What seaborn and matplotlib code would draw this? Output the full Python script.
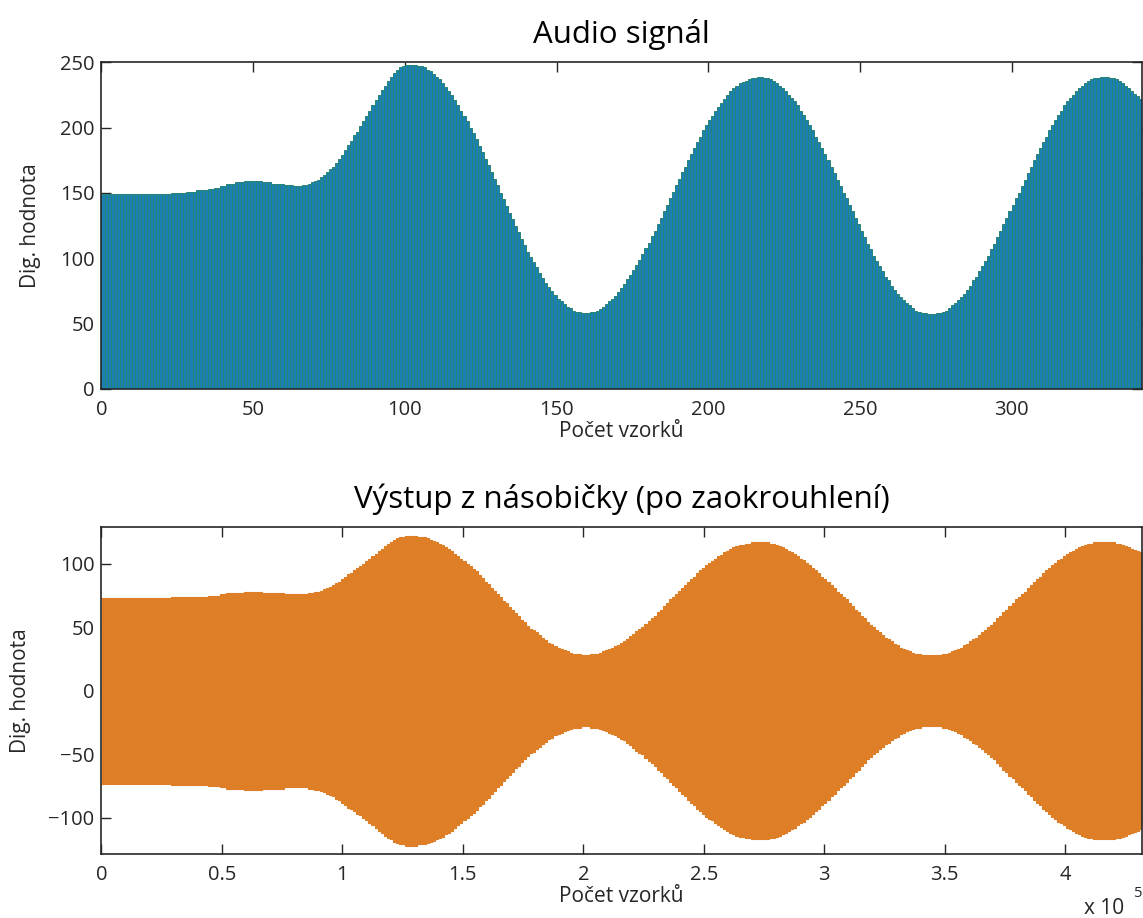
import numpy as np
import pandas as pd
import matplotlib
matplotlib.use("Agg")
import matplotlib.pyplot as plt
import seaborn as sns

# ---------------- data ----------------
titles = ["Audio signál", "Výstup z násobičky (po zaokrouhlení)"]
x_label = "Počet vzorků"
y_label = "Dig. hodnota"

# audio samples 0..342 (digital value, 8-bit unsigned)
audio_values = (
    [149] * 23 + [150] * 5 + [151] * 3 + [152] * 4 + [153] * 2 + [154] * 2 + [155] * 2
    + [157] * 3 + [158] * 3 + [159] * 6 + [158] * 3 + [157] * 4 + [156] * 3 + [155] * 3
    + [156, 156, 157, 158, 159, 160, 162, 164, 166, 168, 170, 173, 176, 179, 183, 187, 190, 194,
       197, 201, 205, 209, 213, 217, 221, 225, 229, 232, 236, 239, 242, 244, 246, 247, 248, 248]
    + [248, 248, 247, 247, 246, 244, 243, 241, 239, 237, 234, 231, 228, 225, 221, 217, 213, 209,
       205, 200, 196, 191, 186, 181, 176, 171, 166, 161, 156, 150, 145, 140, 135, 130, 125, 120,
       115, 110, 105, 101, 97, 93, 89, 85, 81, 78, 75, 72, 69, 67, 65, 63, 62, 60, 59, 59, 58, 58]
    + [58, 59, 59, 60, 61, 63, 65, 67, 69, 71, 74, 77, 80, 84, 87, 91, 95, 99, 103, 108, 112, 117,
       121, 126, 131, 136, 141, 146, 151, 156, 161, 166, 170, 175, 180, 184, 189, 193, 198, 202,
       206, 209, 213, 216, 219, 222, 225, 228, 230, 232, 234, 235, 236, 237, 238, 238, 239]
    + [239, 238, 238, 237, 236, 234, 232, 230, 228, 225, 223, 220, 217, 213, 210, 206, 202, 198,
       193, 189, 184, 180, 175, 170, 165, 160, 155, 150, 146, 141, 136, 131, 126, 121, 116, 111,
       107, 102, 98, 94, 90, 86, 83, 79, 76, 73, 70, 68, 66, 64, 62, 60, 59, 58, 58, 57, 57]
    + [57, 58, 58, 59, 60, 62, 64, 66, 68, 70, 73, 76, 79, 83, 86, 90, 94, 98, 102, 107, 111, 116,
       121, 126, 131, 136, 141, 146, 150, 155, 160, 165, 170, 175, 180, 184, 189, 193, 198, 202,
       206, 210, 213, 217, 220, 223, 225, 228, 230, 232, 234, 236, 237, 238, 238, 239, 239]
    + [239, 238, 238, 237, 236, 234, 232, 230, 228, 226, 224, 222]
)

# multiplier output: audio scaled by the carrier amplitude (read: ~0.49), 1259 output samples per audio sample
mult_gain = 0.49
samples_per_audio = 1259

top_xticks = [0, 50, 100, 150, 200, 250, 300]
top_yticks = [0, 50, 100, 150, 200, 250]
bot_xticks = [0, 50000, 100000, 150000, 200000, 250000, 300000, 350000, 400000]
bot_xticklabels = ["0", "0.5", "1", "1.5", "2", "2.5", "3", "3.5", "4"]
bot_yticks = [-100, -50, 0, 50, 100]
bot_yticklabels = ["\u2212100", "\u221250", "0", "50", "100"]

# ---------------- style ----------------
sns.set_style("ticks")
plt.rcParams["font.family"] = ["Open Sans", "DejaVu Sans"]
plt.rcParams["axes.linewidth"] = 1.2
plt.rcParams["axes.edgecolor"] = "#262626"
plt.rcParams["xtick.direction"] = "in"
plt.rcParams["ytick.direction"] = "in"
plt.rcParams["xtick.top"] = True
plt.rcParams["ytick.right"] = True
plt.rcParams["xtick.major.size"] = 7
plt.rcParams["ytick.major.size"] = 7
plt.rcParams["xtick.major.width"] = 1.0
plt.rcParams["ytick.major.width"] = 1.0
plt.rcParams["xtick.color"] = "#262626"
plt.rcParams["ytick.color"] = "#262626"

BAR_FACE = "#1A80B6"
BAR_EDGE = "#268574"
ORANGE = "#DE7F27"
TXT = "#262626"
TICK_FS = 14.5
LABEL_FS = 15
TITLE_FS = 22.5

FIG_W, FIG_H = 1143, 918
fig = plt.figure(figsize=(FIG_W / 100, FIG_H / 100), dpi=100)
ax1 = fig.add_axes([0.0888, 0.5763, 0.9103, 0.3559])
ax2 = fig.add_axes([0.0888, 0.0697, 0.9103, 0.3562])

n = len(audio_values)
df_top = pd.DataFrame({"sample": np.arange(n) + 0.5, "value": audio_values})
sns.barplot(data=df_top, x="sample", y="value", native_scale=True, width=1.0,
            color=BAR_FACE, saturation=1, edgecolor=BAR_EDGE, linewidth=0.7,
            errorbar=None, ax=ax1)
ax1.set_xlim(0, n)
ax1.set_ylim(0, 250)
ax1.set_xticks(top_xticks)
ax1.set_yticks(top_yticks)

# bottom: envelope of the modulated output (dense carrier fills the band)
env = np.round(np.array(audio_values, dtype=float) * mult_gain)
xs = np.arange(n + 1) * samples_per_audio
env_ext = np.append(env, env[-1])
df_bot = pd.DataFrame({"x": np.concatenate([xs, xs]),
                       "y": np.concatenate([env_ext, -env_ext]),
                       "side": ["up"] * (n + 1) + ["down"] * (n + 1)})
ax2.fill_between(xs, -env_ext, env_ext, step="post", color=ORANGE, linewidth=0)
sns.lineplot(data=df_bot, x="x", y="y", units="side", estimator=None,
             drawstyle="steps-post", color=ORANGE, linewidth=0.8, ax=ax2)
ax2.set_xlim(0, n * samples_per_audio)
ax2.set_ylim(-128.5, 129)
ax2.set_xticks(bot_xticks)
ax2.set_xticklabels(bot_xticklabels)
ax2.set_yticks(bot_yticks)
ax2.set_yticklabels(bot_yticklabels)

# axes pixel boxes (top, bottom) for label placement
boxes = {ax1: (62.3, 389.0), ax2: (527.0, 854.0)}
xlabel_y = {ax1: 432.0, ax2: 896.0}
ylabel_x = {ax1: 30.0, ax2: 20.0}
for ax, title in zip((ax1, ax2), titles):
    top_px, bot_px = boxes[ax]
    h = bot_px - top_px
    ax.set_title(title, fontsize=TITLE_FS, color="black", pad=14)
    ax.set_xlabel(x_label, fontsize=LABEL_FS, color=TXT, va="center")
    ax.xaxis.set_label_coords(0.5, -(xlabel_y[ax] - bot_px) / h)
    ax.set_ylabel(y_label, fontsize=LABEL_FS, color=TXT, va="center")
    ax.yaxis.set_label_coords((ylabel_x[ax] - 101.5) / 1040.5, 0.5)
    ax.tick_params(axis="x", labelsize=TICK_FS, pad=8, colors=TXT)
    ax.tick_params(axis="y", labelsize=TICK_FS, pad=5, colors=TXT)
    for s in ax.spines.values():
        s.set_visible(True)
        s.set_color("#262626")

fig.text(1084 / FIG_W, 1 - 914 / FIG_H, "x 10", fontsize=15, color=TXT, ha="left", va="baseline")
fig.text(1134 / FIG_W, 1 - 897 / FIG_H, "5", fontsize=10.5, color=TXT, ha="left", va="baseline")

fig.savefig("out.png", dpi=100)
